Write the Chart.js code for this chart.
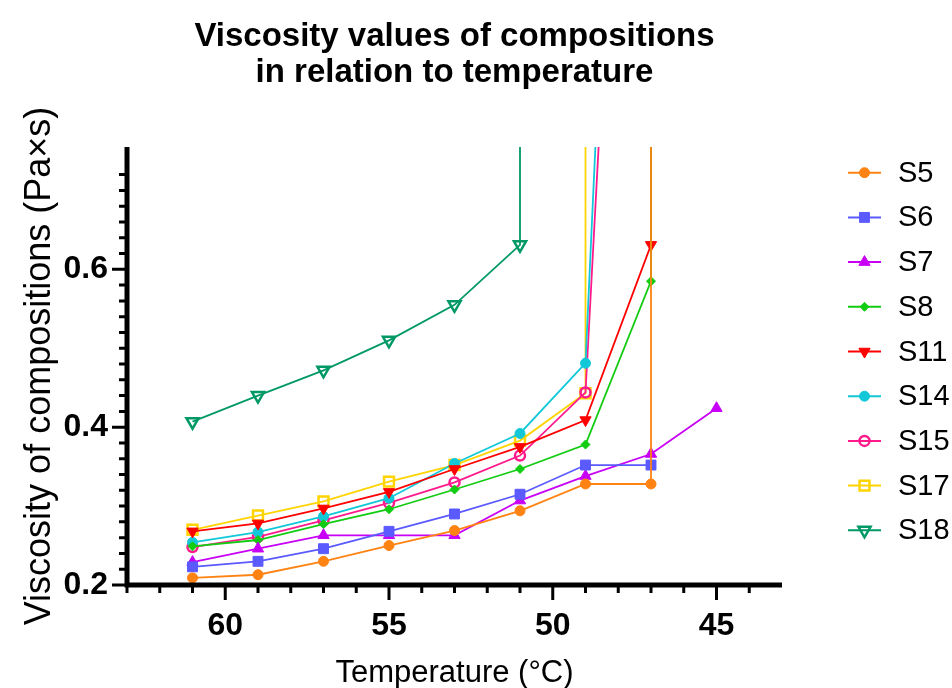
<!DOCTYPE html>
<html lang="en">
<head>
<meta charset="UTF-8">
<title>Viscosity vs temperature</title>
<script src="https://cdn.jsdelivr.net/npm/chart.js"></script>
<style>
  body { margin: 0; background: #fff; }
  #wrap { width: 952px; height: 688px; }
</style>
</head>
<body>
<div id="wrap"><canvas id="viscChart" width="952" height="688"></canvas></div>
<script>
// measured temperatures (°C), cooling run
const temperatures = [61, 59, 57, 55, 53, 51, 49, 47, 45];
const seriesNames = ['S5', 'S6', 'S7', 'S8', 'S11', 'S14', 'S15', 'S17', 'S18'];

// viscosity (Pa×s) per composition, null = no reading
const S5  = [0.209, 0.213, 0.230, 0.250, 0.269, 0.294, 0.328, 0.328, null];
const S6  = [0.223, 0.230, 0.246, 0.268, 0.290, 0.315, 0.352, 0.352, null];
const S7  = [0.229, 0.246, 0.263, 0.263, 0.263, 0.307, 0.338, 0.366, 0.424];
const S8  = [0.249, 0.257, 0.277, 0.296, 0.321, 0.347, 0.378, 0.585, null];
const S11 = [0.268, 0.278, 0.297, 0.318, 0.347, 0.375, 0.409, 0.631, null];
const S14 = [0.254, 0.267, 0.287, 0.310, 0.354, 0.392, 0.481, null, null];
const S15 = [0.248, 0.261, 0.282, 0.304, 0.330, 0.364, 0.444, null, null];
const S17 = [0.270, 0.288, 0.306, 0.331, 0.352, 0.383, 0.443, null, null];
const S18 = [0.407, 0.440, 0.472, 0.510, 0.555, 0.631, null, null, null];
const seriesValues = [S5, S6, S7, S8, S11, S14, S15, S17, S18];

// last reading once the sample sets (far above the axis range)
const gelTemps  = [47, null, null, 47, 47, 47, 47, 49, 51];
const gelValues = [3.0, null, null, 3.0, 3.0, 2.3, 2.0, 3.0, 3.0];

// axis ranges and tick steps
const xRange = [43, 63];
const yRange = [0.2, 0.755];
const xStep = 1, xLabelStep = 5;
const yStep = 0.02, yLabelStep = 0.2;

const colors = ['#ff8312', '#5a5aff', '#c800f5', '#12cc12', '#ff0000', '#12c8d8', '#ff1a8c', '#ffd400', '#009966'];
const markerStyle = [
  { style: 'circle',   r: 5,   rot: 0,   open: false },
  { style: 'rect',     r: 7,   rot: 0,   open: false },
  { style: 'triangle', r: 6.5, rot: 0,   open: false },
  { style: 'rectRot',  r: 4.5, rot: 0,   open: false },
  { style: 'triangle', r: 6.5, rot: 180, open: false },
  { style: 'circle',   r: 5,   rot: 0,   open: false },
  { style: 'circle',   r: 5,   rot: 0,   open: true },
  { style: 'rect',     r: 7,   rot: 0,   open: true },
  { style: 'triangle', r: 7,   rot: 180, open: true }
];

const datasets = seriesNames.map((name, i) => {
  const pts = [];
  seriesValues[i].forEach((v, j) => {
    if (v !== null) pts.push({ x: temperatures[j], y: v });
  });
  if (gelTemps[i] !== null) pts.push({ x: gelTemps[i], y: gelValues[i] });
  const m = markerStyle[i];
  return {
    label: name,
    data: pts,
    borderColor: colors[i],
    borderWidth: 1.8,
    pointStyle: m.style,
    pointRadius: m.r,
    pointRotation: m.rot,
    pointBackgroundColor: m.open ? 'rgba(0,0,0,0)' : colors[i],
    pointBorderColor: colors[i],
    pointBorderWidth: m.open ? 2.5 : 1,
    fill: false,
    tension: 0
  };
});

const onStep = (v, step) => Math.abs(v / step - Math.round(v / step)) < 1e-6;

// axis lines, tick marks, title and legend
const framePlugin = {
  id: 'frame',
  afterDraw(chart) {
    const ctx = chart.ctx;
    const { left, right, top, bottom } = chart.chartArea;
    const xs = chart.scales.x, ys = chart.scales.y;
    ctx.save();
    ctx.strokeStyle = '#000';
    ctx.lineWidth = 5;
    ctx.beginPath();
    ctx.moveTo(left - 2.5, bottom); ctx.lineTo(right, bottom);
    ctx.moveTo(left, top); ctx.lineTo(left, bottom + 2.5);
    ctx.stroke();

    ctx.lineWidth = 3;
    ctx.beginPath();
    xs.ticks.forEach(t => {
      if (t.value <= xRange[0] || !onStep(t.value, xStep)) return;
      const px = xs.getPixelForValue(t.value);
      const len = onStep(t.value, xLabelStep) ? 15 : 8;
      ctx.moveTo(px, bottom); ctx.lineTo(px, bottom + len);
    });
    ys.ticks.forEach(t => {
      if (!onStep(t.value, yStep)) return;
      const py = ys.getPixelForValue(t.value);
      const len = onStep(t.value, yLabelStep) ? 15 : 8;
      ctx.moveTo(left, py); ctx.lineTo(left - len, py);
    });
    ctx.stroke();

    // title centred over the plot
    const cx = (left + right) / 2;
    ctx.fillStyle = '#000';
    ctx.textAlign = 'center';
    ctx.textBaseline = 'alphabetic';
    ctx.font = 'bold 33px "Liberation Sans", Arial, sans-serif';
    ctx.fillText('Viscosity values of compositions', cx, 46);
    ctx.fillText('in relation to temperature', cx, 82);

    // legend: line + marker + name
    ctx.textAlign = 'left';
    ctx.textBaseline = 'middle';
    ctx.font = '29px "Liberation Sans", Arial, sans-serif';
    chart.data.datasets.forEach((ds, i) => {
      const y = 172.7 + 44.7 * i;
      ctx.strokeStyle = ds.borderColor;
      ctx.lineWidth = 2;
      ctx.beginPath();
      ctx.moveTo(848, y); ctx.lineTo(881, y);
      ctx.stroke();
      ctx.fillStyle = ds.pointBackgroundColor;
      ctx.lineWidth = ds.pointBorderWidth;
      Chart.helpers.drawPoint(ctx, {
        pointStyle: ds.pointStyle,
        radius: ds.pointRadius,
        rotation: ds.pointRotation,
        borderWidth: ds.pointBorderWidth
      }, 864.5, y);
      ctx.fillStyle = '#000';
      ctx.fillText(ds.label, 898, y + 1);
    });
    ctx.restore();
  }
};

new Chart(document.getElementById('viscChart'), {
  type: 'line',
  data: { datasets },
  options: {
    responsive: false,
    devicePixelRatio: 1,
    animation: false,
    layout: { padding: { left: 0, right: 170, top: 147, bottom: 0 } },
    plugins: { legend: { display: false }, title: { display: false }, tooltip: { enabled: false } },
    scales: {
      x: {
        type: 'linear',
        reverse: true,
        min: xRange[0],
        max: xRange[1],
        afterFit: s => { s.height = 103; },
        grid: { drawOnChartArea: false, tickLength: 15, tickColor: 'rgba(0,0,0,0)' },
        border: { display: false },
        ticks: {
          stepSize: xStep,
          autoSkip: false,
          maxRotation: 0,
          padding: 7,
          color: '#000',
          font: { family: '"Liberation Sans", Arial, sans-serif', size: 32, weight: 'bold' },
          callback: v => onStep(v, xLabelStep) ? String(v) : ''
        },
        title: {
          display: true,
          text: 'Temperature (°C)',
          color: '#000',
          padding: { top: 0, bottom: -4 },
          font: { family: '"Liberation Sans", Arial, sans-serif', size: 31 }
        }
      },
      y: {
        type: 'linear',
        min: yRange[0],
        max: yRange[1],
        afterFit: s => { s.width = 127; },
        grid: { drawOnChartArea: false, tickLength: 15, tickColor: 'rgba(0,0,0,0)' },
        border: { display: false },
        ticks: {
          stepSize: yStep,
          autoSkip: false,
          padding: 4,
          color: '#000',
          font: { family: '"Liberation Sans", Arial, sans-serif', size: 32, weight: 'bold' },
          callback: v => onStep(v, yLabelStep) ? v.toFixed(1) : ''
        },
        title: {
          display: true,
          text: 'Viscosity of compositions (Pa×s)',
          color: '#000',
          padding: { top: 18, bottom: 0 },
          font: { family: '"Liberation Sans", Arial, sans-serif', size: 36 }
        }
      }
    }
  },
  plugins: [framePlugin]
});
</script>
</body>
</html>
